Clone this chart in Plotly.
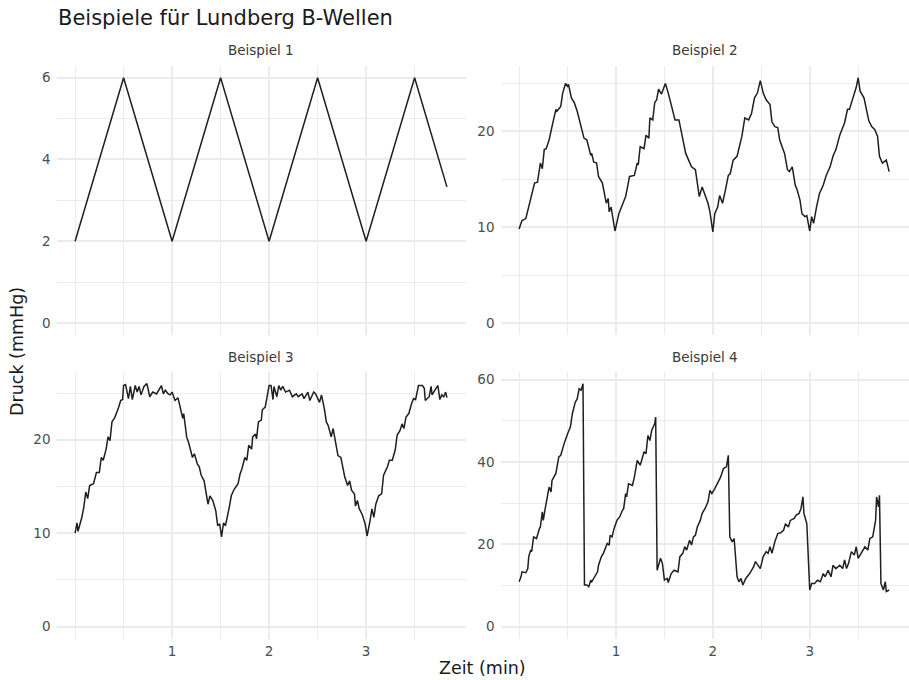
import plotly.graph_objects as go

# ---------------- data ----------------
panel_titles = ["Beispiel 1", "Beispiel 2", "Beispiel 3", "Beispiel 4"]

t1 = [0, 0.5, 1.0, 1.5, 2.0, 2.5, 3.0, 3.5, 3.833]
v1 = [2, 6, 2, 6, 2, 6, 2, 6, 3.33]

t2 = [0, 0.03, 0.07, 0.10, 0.14, 0.16, 0.19, 0.22, 0.24, 0.26, 0.28, 0.31, 0.34, 0.38, 0.39, 0.43,
      0.45, 0.48, 0.50, 0.51, 0.54, 0.57, 0.60, 0.63, 0.67, 0.70, 0.74, 0.75, 0.77, 0.80, 0.82, 0.86,
      0.88, 0.90, 0.92, 0.93, 0.95, 0.99, 1.03, 1.05, 1.07, 1.10, 1.12, 1.14, 1.19, 1.22, 1.23, 1.25,
      1.29, 1.31, 1.34, 1.35, 1.38, 1.40, 1.42, 1.44, 1.47, 1.51, 1.54, 1.58, 1.61, 1.65, 1.68, 1.72,
      1.75, 1.78, 1.82, 1.84, 1.86, 1.89, 1.92, 1.95, 1.97, 2.00, 2.02, 2.05, 2.07, 2.10, 2.13, 2.16,
      2.18, 2.21, 2.25, 2.28, 2.30, 2.33, 2.37, 2.40, 2.43, 2.46, 2.49, 2.52, 2.55, 2.59, 2.61, 2.64,
      2.67, 2.69, 2.72, 2.74, 2.77, 2.79, 2.82, 2.85, 2.87, 2.90, 2.92, 2.95, 2.97, 3.00, 3.02, 3.04,
      3.07, 3.10, 3.14, 3.17, 3.21, 3.24, 3.27, 3.31, 3.36, 3.39, 3.41, 3.45, 3.48, 3.50, 3.52, 3.56,
      3.58, 3.61, 3.64, 3.67, 3.70, 3.72, 3.75, 3.79, 3.82]
v2 = [9.8, 10.7, 10.9, 12.1, 13.5, 14.6, 14.7, 16.7, 16.1, 18.1, 18.2, 19.1, 20.5, 22.3, 22.1, 22.6,
      24.0, 25.0, 24.7, 24.9, 23.5, 23.0, 22.1, 20.9, 19.3, 19.1, 17.5, 17.7, 16.8, 16.7, 15.3, 14.6,
      13.7, 12.5, 13.0, 11.6, 12.1, 9.6, 11.4, 11.9, 12.6, 13.2, 14.2, 15.3, 15.4, 16.7, 16.5, 18.4,
      18.2, 19.6, 19.3, 21.4, 21.2, 23.0, 23.3, 24.4, 23.9, 25.0, 24.0, 22.3, 21.2, 21.2, 19.8, 17.7,
      17.0, 16.3, 16.0, 14.6, 13.2, 14.2, 13.3, 12.5, 11.6, 9.5, 11.4, 12.1, 13.3, 12.5, 13.9, 15.4,
      15.6, 17.0, 17.4, 18.6, 19.5, 21.4, 21.2, 21.9, 23.5, 24.0, 25.3, 24.0, 23.3, 22.8, 21.0, 20.5,
      20.4, 19.1, 18.1, 17.7, 16.0, 15.8, 16.3, 14.4, 13.9, 12.8, 11.4, 11.1, 11.2, 9.6, 11.1, 10.4,
      12.1, 13.5, 14.4, 15.4, 16.3, 17.4, 18.1, 19.6, 20.9, 22.3, 22.3, 23.5, 24.6, 25.6, 24.2, 23.5,
      22.5, 21.1, 20.5, 20.2, 19.5, 17.4, 16.7, 17.0, 15.8]

t3 = [0, 0.02, 0.03, 0.07, 0.09, 0.11, 0.13, 0.15, 0.19, 0.22, 0.25, 0.27, 0.29, 0.32, 0.34, 0.36,
      0.38, 0.41, 0.45, 0.47, 0.49, 0.50, 0.52, 0.55, 0.57, 0.59, 0.62, 0.64, 0.66, 0.68, 0.71, 0.74,
      0.77, 0.80, 0.84, 0.87, 0.89, 0.91, 0.93, 0.96, 0.98, 1.00, 1.03, 1.06, 1.09, 1.11, 1.12, 1.15,
      1.17, 1.21, 1.23, 1.26, 1.28, 1.30, 1.33, 1.35, 1.37, 1.39, 1.42, 1.45, 1.47, 1.49, 1.51, 1.53,
      1.55, 1.59, 1.61, 1.64, 1.68, 1.70, 1.72, 1.75, 1.77, 1.79, 1.82, 1.83, 1.86, 1.87, 1.89, 1.92,
      1.93, 1.96, 1.98, 2.00, 2.02, 2.04, 2.05, 2.08, 2.10, 2.12, 2.14, 2.17, 2.21, 2.24, 2.28, 2.30,
      2.34, 2.36, 2.40, 2.42, 2.46, 2.48, 2.52, 2.54, 2.57, 2.59, 2.61, 2.64, 2.66, 2.68, 2.71, 2.74,
      2.76, 2.78, 2.81, 2.83, 2.85, 2.88, 2.89, 2.91, 2.93, 2.96, 2.99, 3.01, 3.04, 3.06, 3.08, 3.10,
      3.12, 3.13, 3.16, 3.18, 3.22, 3.24, 3.27, 3.30, 3.32, 3.35, 3.37, 3.39, 3.41, 3.44, 3.47, 3.49,
      3.51, 3.54, 3.58, 3.60, 3.61, 3.65, 3.67, 3.68, 3.72, 3.74, 3.76, 3.78, 3.80, 3.82, 3.833]
v3 = [10.0, 11.1, 10.2, 11.7, 12.8, 14.4, 13.7, 15.1, 15.3, 16.5, 16.5, 18.1, 17.8, 19.0, 20.3, 19.9,
      21.9, 22.4, 23.5, 24.2, 24.3, 25.8, 25.9, 24.4, 25.7, 24.3, 25.8, 25.1, 25.7, 24.8, 25.7, 26.0,
      24.6, 25.1, 24.9, 25.5, 25.8, 24.9, 25.3, 24.9, 24.8, 25.1, 24.2, 24.5, 23.2, 22.3, 22.8, 20.3,
      19.7, 18.1, 18.5, 17.4, 17.1, 16.2, 15.6, 14.4, 13.1, 14.0, 13.5, 12.4, 10.8, 11.0, 9.6, 11.1,
      10.8, 12.8, 14.0, 14.7, 15.3, 16.3, 16.9, 18.1, 17.8, 19.4, 19.0, 20.3, 20.6, 20.1, 21.9, 22.1,
      23.2, 23.5, 24.6, 25.8, 25.8, 24.3, 25.7, 24.6, 25.8, 25.3, 25.7, 25.1, 25.3, 24.6, 24.9, 24.6,
      24.9, 24.4, 25.1, 24.2, 25.1, 24.9, 24.0, 24.8, 23.3, 21.9, 21.5, 20.3, 21.2, 19.9, 18.3, 18.1,
      17.1, 16.0, 15.1, 15.6, 14.6, 14.2, 12.9, 13.5, 12.6, 12.0, 11.0, 9.7, 11.3, 12.6, 11.7, 13.1,
      13.7, 14.0, 14.2, 16.2, 17.1, 17.8, 17.8, 18.9, 20.5, 21.0, 21.7, 21.2, 22.4, 22.8, 23.9, 24.4,
      24.3, 25.8, 25.8, 25.5, 24.2, 24.6, 25.7, 24.8, 25.5, 25.8, 24.3, 24.8, 24.6, 25.1, 24.5]

t4 = [0, 0.02, 0.03, 0.07, 0.09, 0.10, 0.12, 0.13, 0.15, 0.18, 0.21, 0.22, 0.24, 0.25, 0.27, 0.29,
      0.31, 0.33, 0.34, 0.38, 0.39, 0.41, 0.43, 0.45, 0.47, 0.50, 0.53, 0.55, 0.57, 0.58, 0.60, 0.62,
      0.64, 0.66, 0.675, 0.68, 0.70, 0.72, 0.74, 0.75, 0.78, 0.81, 0.82, 0.85, 0.87, 0.91, 0.93, 0.94,
      0.96, 0.98, 1.01, 1.04, 1.06, 1.08, 1.10, 1.11, 1.13, 1.17, 1.19, 1.22, 1.25, 1.29, 1.31, 1.33,
      1.35, 1.37, 1.40, 1.41, 1.425, 1.46, 1.48, 1.50, 1.53, 1.54, 1.57, 1.60, 1.64, 1.66, 1.69, 1.71,
      1.73, 1.76, 1.78, 1.80, 1.82, 1.84, 1.87, 1.89, 1.92, 1.95, 1.97, 1.99, 2.02, 2.05, 2.08, 2.11,
      2.14, 2.16, 2.175, 2.20, 2.22, 2.25, 2.27, 2.29, 2.31, 2.34, 2.38, 2.42, 2.44, 2.49, 2.52, 2.55,
      2.57, 2.59, 2.61, 2.64, 2.67, 2.70, 2.73, 2.75, 2.78, 2.80, 2.84, 2.86, 2.89, 2.91, 2.92, 2.93,
      2.94, 2.95, 2.97, 3.00, 3.02, 3.05, 3.08, 3.11, 3.14, 3.16, 3.19, 3.22, 3.24, 3.27, 3.31, 3.34,
      3.36, 3.38, 3.40, 3.43, 3.46, 3.48, 3.50, 3.53, 3.57, 3.60, 3.62, 3.65, 3.68, 3.69, 3.71, 3.72,
      3.735, 3.76, 3.78, 3.79, 3.82]
v4 = [10.9, 12.1, 13.3, 13.1, 14.1, 17.0, 18.6, 18.2, 21.8, 21.4, 23.8, 24.2, 27.9, 25.8, 28.7, 31.5,
      33.9, 32.7, 35.5, 37.2, 38.8, 41.2, 41.6, 43.6, 44.8, 46.8, 48.5, 51.7, 53.7, 54.5, 55.3, 57.8,
      57.4, 59.0, 10.1, 10.1, 10.1, 9.7, 11.3, 10.9, 12.1, 13.3, 14.9, 17.0, 17.8, 20.2, 19.8, 22.2,
      21.8, 23.8, 25.8, 26.7, 27.9, 28.7, 32.3, 31.5, 34.7, 34.3, 36.3, 40.4, 39.2, 42.4, 42.0, 46.4,
      45.2, 47.7, 49.3, 50.9, 13.7, 16.6, 15.3, 11.3, 11.7, 10.7, 12.9, 13.7, 13.3, 17.0, 17.8, 19.4,
      18.6, 21.0, 19.8, 21.8, 22.2, 24.2, 25.8, 27.5, 28.7, 30.3, 33.1, 32.3, 33.5, 35.1, 36.3, 38.4,
      38.8, 41.6, 21.8, 20.6, 21.4, 12.1, 10.9, 11.7, 10.1, 11.7, 12.9, 14.5, 15.8, 14.1, 17.0, 18.2,
      17.8, 19.4, 17.8, 20.6, 22.6, 22.8, 23.4, 25.0, 24.2, 25.8, 26.3, 27.1, 27.5, 28.7, 30.3, 31.5,
      27.5, 26.7, 25.0, 8.9, 10.5, 10.5, 11.3, 10.9, 12.9, 12.1, 13.7, 12.1, 14.9, 14.1, 14.9, 14.1,
      16.2, 14.1, 15.3, 18.2, 17.4, 19.4, 16.6, 17.8, 19.4, 18.6, 21.4, 21.8, 25.8, 31.5, 29.1, 31.9,
      10.5, 8.9, 10.9, 8.5, 8.9]

series_t = [t1, t2, t3, t4]
series_v = [v1, v2, v3, v4]

x_major = [1, 2, 3]
x_minor = [0, 0.5, 1.5, 2.5, 3.5]
y_major = [[0, 2, 4, 6], [0, 10, 20], [0, 10, 20], [0, 20, 40, 60]]
y_minor = [[1, 3, 5], [5, 15, 25], [5, 15, 25], [10, 30, 50]]

title_text = "Beispiele für Lundberg B-Wellen"
x_title = "Zeit (min)"
y_title = "Druck (mmHg)"

# ---------------- layout ----------------
W, H = 909, 680
FONT = "DejaVu Sans"
GRID = "#EBEBEB"
TICKC = "#4D4D4D"

cols = [(56.5, 465.5), (500.5, 909.0)]
rows = [(65.5, 335.2), (371.5, 638.8)]


def xdom(a, b):
    return [a / W, min(b / W, 1.0)]


def ydom(top, bottom):
    return [1 - bottom / H, 1 - top / H]


def expand(lo, hi, f=0.05):
    d = (hi - lo) * f
    return [lo - d, hi + d]


tmax = max(max(t) for t in series_t)
xr = expand(0, tmax)

fig = go.Figure()
layout = dict(
    width=W, height=H,
    margin=dict(l=0, r=0, t=0, b=0),
    paper_bgcolor="white", plot_bgcolor="white",
    showlegend=False,
    font=dict(family=FONT, color="#1A1A1A"),
)

annotations = []
for i in range(4):
    r, c = divmod(i, 2)
    n = "" if i == 0 else str(i + 1)
    fig.add_trace(go.Scatter(
        x=series_t[i], y=series_v[i], mode="lines",
        line=dict(color="#1F1F1F", width=1.5),
        xaxis="x" + n, yaxis="y" + n, hoverinfo="skip",
    ))
    yr = expand(min(0, min(series_v[i])), max(series_v[i]))
    layout["xaxis" + n] = dict(
        domain=xdom(*cols[c]), range=xr, anchor="y" + n,
        tickmode="array", tickvals=x_major, ticktext=[str(v) for v in x_major],
        showticklabels=(r == 1), ticks="", showline=False, zeroline=False,
        showgrid=True, gridcolor=GRID, gridwidth=1.7,
        minor=dict(tickmode="array", tickvals=x_minor, showgrid=True,
                   gridcolor=GRID, gridwidth=1.0, ticks=""),
        tickfont=dict(family=FONT, size=13.5, color=TICKC),
        ticklabelstandoff=3,
    )
    layout["yaxis" + n] = dict(
        domain=ydom(*rows[r]), range=yr, anchor="x" + n,
        tickmode="array", tickvals=y_major[i], ticktext=[str(v) for v in y_major[i]],
        ticks="", showline=False, zeroline=False,
        showgrid=True, gridcolor=GRID, gridwidth=1.7,
        minor=dict(tickmode="array", tickvals=y_minor[i], showgrid=True,
                   gridcolor=GRID, gridwidth=1.0, ticks=""),
        tickfont=dict(family=FONT, size=13.5, color=TICKC),
        ticklabelstandoff=5,
    )
    cx = (cols[c][0] + cols[c][1]) / 2 / W
    cy = 1 - (rows[r][0] - 15) / H
    annotations.append(dict(
        text=panel_titles[i], x=cx, y=cy, xref="paper", yref="paper",
        xanchor="center", yanchor="middle", showarrow=False,
        font=dict(family=FONT, size=13.5, color="#3A3A3A"),
    ))

annotations.append(dict(
    text=title_text, x=56 / W, y=1 - 18 / H, xref="paper", yref="paper",
    xanchor="left", yanchor="middle", showarrow=False,
    font=dict(family=FONT, size=21, color="#1A1A1A"),
))
annotations.append(dict(
    text=x_title, x=(56.5 + 909) / 2 / W, y=1 - 668 / H, xref="paper", yref="paper",
    xanchor="center", yanchor="middle", showarrow=False,
    font=dict(family=FONT, size=17.5, color="#1A1A1A"),
))
annotations.append(dict(
    text=y_title, x=17 / W, y=1 - 352 / H, xref="paper", yref="paper",
    xanchor="center", yanchor="middle", showarrow=False, textangle=-90,
    font=dict(family=FONT, size=17.5, color="#1A1A1A"),
))
layout["annotations"] = annotations

fig.update_layout(**layout)
fig.write_html("out.html")
